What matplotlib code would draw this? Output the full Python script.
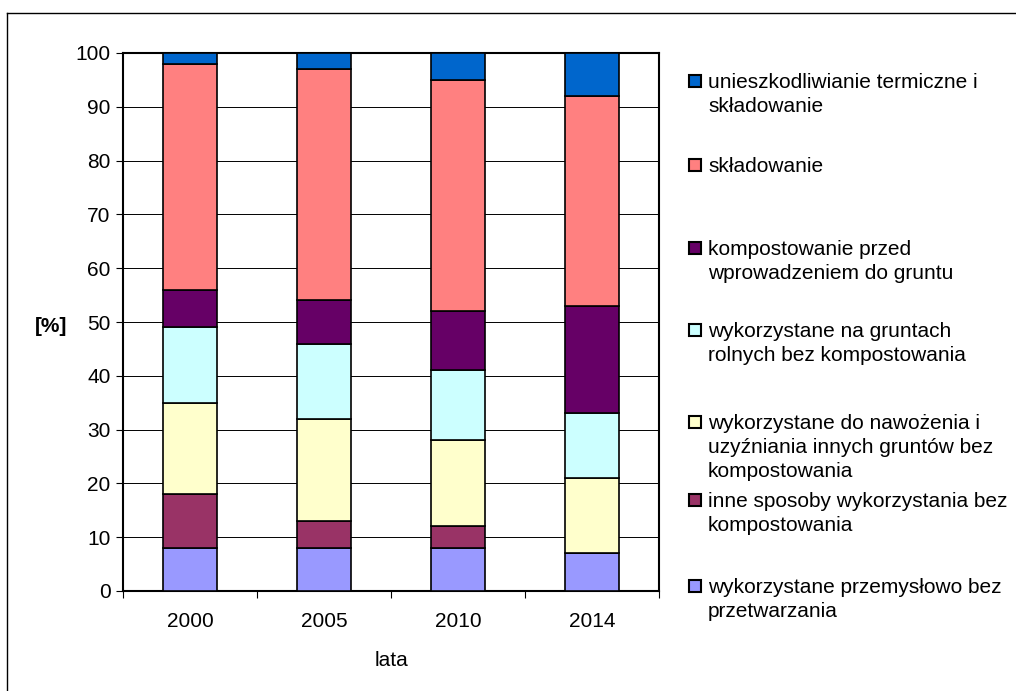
import matplotlib
matplotlib.use("Agg")
import matplotlib.pyplot as plt
from matplotlib.patches import Rectangle
from matplotlib.lines import Line2D
import numpy as np

plt.rcParams['font.family'] = ['Liberation Sans', 'DejaVu Sans']

years = ['2000', '2005', '2010', '2014']
series_names = [
    'wykorzystane przemysłowo bez\nprzetwarzania',
    'inne sposoby wykorzystania bez\nkompostowania',
    'wykorzystane do nawożenia i\nuzyźniania innych gruntów bez\nkompostowania',
    'wykorzystane na gruntach\nrolnych bez kompostowania',
    'kompostowanie przed\nwprowadzeniem do gruntu',
    'składowanie',
    'unieszkodliwianie termiczne i\nskładowanie',
]
przemyslowo = [8, 8, 8, 7]
inne = [10, 5, 4, 0]
nawozenie = [17, 19, 16, 14]
rolne = [14, 14, 13, 12]
kompost = [7, 8, 11, 20]
skladowanie = [42, 43, 43, 39]
termiczne = [2, 3, 5, 8]
values = [przemyslowo, inne, nawozenie, rolne, kompost, skladowanie, termiczne]
colors = ['#9999FF', '#993366', '#FFFFCC', '#CCFFFF', '#660066', '#FF8080', '#0066CC']

W, H = 1016, 691
FS = 15
fig = plt.figure(figsize=(W / 100, H / 100), dpi=100)
ax = fig.add_axes([123 / W, 1 - 591 / H, (659 - 123) / W, (591 - 53) / H])

x = np.arange(len(years))
bottom = np.zeros(len(years))
for vals, c in zip(values, colors):
    v = np.array(vals, dtype=float)
    ax.bar(x, v, bottom=bottom, width=0.4, color=c, edgecolor='black',
           linewidth=1.2, zorder=3)
    bottom += v

ax.set_xlim(-0.5, len(years) - 0.5)
ax.set_ylim(0, 100)
ax.set_yticks(np.arange(0, 101, 10))
ax.yaxis.grid(True, color='black', linewidth=0.7, zorder=0)
ax.set_axisbelow(True)
ax.set_xticks(x)
ax.set_xticklabels(years, fontsize=FS)
ax.tick_params(axis='x', which='major', length=0, pad=15)
ax.set_xticks(np.arange(-0.5, len(years)), minor=True)
ax.tick_params(axis='x', which='minor', length=5, width=0.8, direction='out')
ax.tick_params(axis='y', length=5, width=0.8, direction='out', labelsize=FS, pad=4)
for s in ax.spines.values():
    s.set_linewidth(1.5)
    s.set_color('black')

fig.text(35 / W, 1 - 326 / H, '[%]', fontsize=FS, fontweight='bold',
         ha='left', va='center')
fig.text(391 / W, 1 - 660 / H, 'lata', fontsize=FS, ha='center', va='center')

# legend (drawn manually to keep Excel-like layout)
leg_y = [586, 500, 422, 330, 248, 165, 81]
LINE = 24
for name, c, yy in zip(series_names, colors, leg_y):
    fig.add_artist(Rectangle((689 / W, 1 - (yy + 6) / H), 12 / W, 12 / H,
                             facecolor=c, edgecolor='black', linewidth=1.5,
                             transform=fig.transFigure))
    for i, line in enumerate(name.split('\n')):
        fig.text(708 / W, 1 - (yy + 7 + i * LINE) / H, line, fontsize=FS,
                 ha='left', va='baseline')

# outer chart frame (cut at right/bottom)
fig.add_artist(Line2D([7 / W, 7 / W], [1 - 13 / H, 0], color='black', linewidth=1.0,
                      transform=fig.transFigure))
fig.add_artist(Line2D([7 / W, 1], [1 - 13 / H, 1 - 13 / H], color='black', linewidth=1.0,
                      transform=fig.transFigure))

fig.savefig('out.png', dpi=100)
